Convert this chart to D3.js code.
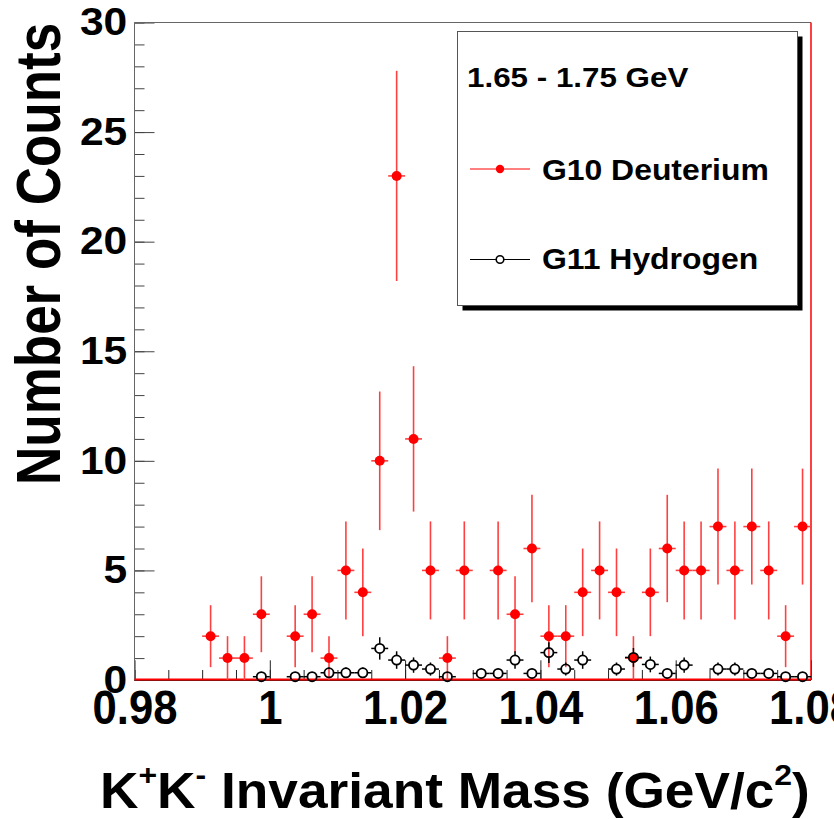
<!DOCTYPE html>
<html><head><meta charset="utf-8">
<script src="https://cdn.jsdelivr.net/npm/d3@7"></script>
<style>
body{margin:0;background:#fff}
svg{display:block}
text{font-family:"Liberation Sans",Arial,Helvetica,sans-serif;font-weight:bold;fill:#000}
</style>
</head><body>
<svg id="chart" width="834" height="819"></svg>
<script>
// ---- data ----
const binWidth = 0.0025;
const deutMass = [0.99125,0.99375,0.99625,0.99875,1.00375,1.00625,1.00875,1.01125,1.01375,1.01625,1.01875,1.02125,1.02375,1.02625,1.02875,1.03375,1.03625,1.03875,1.04125,1.04375,1.04625,1.04875,1.05125,1.05375,1.05625,1.05875,1.06125,1.06375,1.06625,1.06875,1.07125,1.07375,1.07625,1.07875];
const deutCounts = [2,1,1,3,2,3,1,5,4,10,23,11,5,1,5,5,3,6,2,2,4,5,4,1,4,6,5,5,7,5,7,5,2,7];
const hydMass = [0.99875,1.00375,1.00625,1.00875,1.01125,1.01375,1.01625,1.01875,1.02125,1.02375,1.02625,1.03125,1.03375,1.03625,1.03875,1.04125,1.04375,1.04625,1.05125,1.05375,1.05625,1.05875,1.06125,1.06625,1.06875,1.07125,1.07375,1.07625,1.07875];
const hydValues = [0.15,0.15,0.15,0.33,0.33,0.33,1.44,0.91,0.68,0.50,0.15,0.30,0.30,0.91,0.30,1.25,0.50,0.91,0.50,1.03,0.71,0.30,0.68,0.50,0.50,0.30,0.30,0.15,0.15];
const hydErrors = [0.16,0.16,0.16,0.24,0.24,0.24,0.51,0.40,0.35,0.30,0.16,0.23,0.23,0.40,0.23,0.47,0.30,0.40,0.30,0.43,0.36,0.23,0.35,0.30,0.30,0.23,0.23,0.16,0.16];
const xMajorTicks = [0.98,1.00,1.02,1.04,1.06,1.08];
const xTickLabels = ["0.98","1","1.02","1.04","1.06","1.08"];
const yMajorTicks = [0,5,10,15,20,25,30];
const yTickLabels = ["0","5","10","15","20","25","30"];
const legendTitle = "1.65 - 1.75 GeV";
const seriesNames = ["G10 Deuterium","G11 Hydrogen"];
const xTitleParts = [["K",0],["+",1],["K",0],["-",1],[" Invariant Mass (GeV/c",0],["2",1],[")",0]];
const yTitle = "Number of Counts";

// ---- layout ----
const svg = d3.select("#chart");
const X0 = 134.5, X1 = 811, Y0 = 680, Y1 = 22.5;
const x = d3.scaleLinear().domain([0.98,1.08]).range([X0,X1]);
const y = d3.scaleLinear().domain([0,30]).range([Y0,Y1]);
const RED = "#ff0000";

svg.append("rect").attr("width",834).attr("height",819).attr("fill","#fff");

// minor ticks
const xMinor = d3.range(0.98,1.0801,0.005);
svg.append("g").attr("transform",`translate(0,${Y0})`)
  .call(d3.axisBottom(x).tickValues(xMinor).tickSize(-10).tickFormat(""))
  .call(g=>g.select(".domain").remove())
  .call(g=>g.selectAll("line").attr("stroke","#222"));
const yMinor = d3.range(0,30.01,1);
svg.append("g").attr("transform",`translate(${X0},0)`)
  .call(d3.axisLeft(y).tickValues(yMinor).tickSize(-10).tickFormat(""))
  .call(g=>g.select(".domain").remove())
  .call(g=>g.selectAll("line").attr("stroke","#444"));

// major x
svg.append("g").attr("transform",`translate(0,${Y0})`)
  .call(d3.axisBottom(x).tickValues(xMajorTicks).tickSize(-19.7).tickPadding(10)
        .tickFormat((d,i)=>xTickLabels[i]))
  .call(g=>g.select(".domain").remove())
  .call(g=>g.selectAll("line").attr("stroke","#222"))
  .call(g=>g.selectAll("text").attr("font-size",48).attr("fill","#000")
        .attr("transform","scale(0.91,1)")
        .style("font-family",'"Liberation Sans",Arial,sans-serif').style("font-weight","bold"));

// major y
svg.append("g").attr("transform",`translate(${X0},0)`)
  .call(d3.axisLeft(y).tickValues(yMajorTicks).tickSize(-20).tickPadding(6.5)
        .tickFormat((d,i)=>yTickLabels[i]))
  .call(g=>g.select(".domain").remove())
  .call(g=>g.selectAll("line").attr("stroke","#444"))
  .call(g=>g.selectAll("text").attr("font-size",38).attr("fill","#000")
        .attr("transform","scale(1.12,1)")
        .style("font-family",'"Liberation Sans",Arial,sans-serif').style("font-weight","bold"));

// frame lines
svg.append("line").attr("x1",X0).attr("x2",X1).attr("y1",Y1).attr("y2",Y1).attr("stroke","#666").attr("stroke-width",1);
svg.append("line").attr("x1",X0).attr("x2",X0).attr("y1",Y1).attr("y2",Y0).attr("stroke","#666").attr("stroke-width",1);
svg.append("line").attr("x1",X0).attr("x2",X1).attr("y1",Y0+0.5).attr("y2",Y0+0.5).attr("stroke","#222").attr("stroke-width",1);
// red histogram outline
svg.append("line").attr("x1",X0).attr("x2",X1).attr("y1",Y0-0.5).attr("y2",Y0-0.5).attr("stroke",RED).attr("stroke-width",2);
svg.append("line").attr("x1",X1).attr("x2",X1).attr("y1",Y1).attr("y2",Y0).attr("stroke",RED).attr("stroke-width",1.5);

// deuterium points
const deut = deutMass.map((m,i)=>({m, c:deutCounts[i], e:Math.sqrt(deutCounts[i])}));
const gD = svg.append("g");
gD.selectAll("line.v").data(deut).join("line")
  .attr("x1",d=>x(d.m)).attr("x2",d=>x(d.m))
  .attr("y1",d=>y(Math.max(0,d.c-d.e))).attr("y2",d=>y(d.c+d.e))
  .attr("stroke","#ff4040").attr("stroke-width",1.6);
gD.selectAll("line.h").data(deut).join("line")
  .attr("x1",d=>x(d.m-binWidth/2)).attr("x2",d=>x(d.m+binWidth/2))
  .attr("y1",d=>y(d.c)).attr("y2",d=>y(d.c))
  .attr("stroke","#ff4040").attr("stroke-width",1.6);
gD.selectAll("circle").data(deut).join("circle")
  .attr("cx",d=>x(d.m)).attr("cy",d=>y(d.c)).attr("r",5).attr("fill",RED);

// hydrogen points
const R = 4.6;
const hyd = hydMass.map((m,i)=>({m, v:hydValues[i], e:hydErrors[i]}));
const gH = svg.append("g").attr("stroke","#000").attr("stroke-width",1.5);
hyd.forEach(d=>{
  const cx = x(d.m), cy = y(d.v);
  const top = y(d.v+d.e), bot = y(Math.max(0,d.v-d.e));
  if (cy - top > R) gH.append("line").attr("x1",cx).attr("x2",cx).attr("y1",top).attr("y2",cy-R);
  if (bot - cy > R) gH.append("line").attr("x1",cx).attr("x2",cx).attr("y1",cy+R).attr("y2",bot);
  gH.append("line").attr("x1",x(d.m-binWidth/2)).attr("x2",cx-R).attr("y1",cy).attr("y2",cy);
  gH.append("line").attr("x1",cx+R).attr("x2",x(d.m+binWidth/2)).attr("y1",cy).attr("y2",cy);
});
gH.selectAll("circle").data(hyd).join("circle")
  .attr("cx",d=>x(d.m)).attr("cy",d=>y(d.v)).attr("r",R).attr("fill","none").attr("stroke-width",1.8);

// legend
const L = {x:457.5, y:31.5, w:340, h:274};
svg.append("rect").attr("x",L.x+5).attr("y",L.y+5).attr("width",L.w).attr("height",L.h).attr("fill","#000");
svg.append("rect").attr("x",L.x).attr("y",L.y).attr("width",L.w).attr("height",L.h).attr("fill","#fff").attr("stroke","#555").attr("stroke-width",1);
svg.append("text").attr("transform","translate(467,87) scale(1.12,1)").attr("font-size",28).text(legendTitle);
// entry 1
svg.append("line").attr("x1",470).attr("x2",530).attr("y1",169).attr("y2",169).attr("stroke",RED).attr("stroke-width",1);
svg.append("circle").attr("cx",500).attr("cy",169).attr("r",4.2).attr("fill",RED);
svg.append("text").attr("transform","translate(542,179.5) scale(1.1,1)").attr("font-size",29).text(seriesNames[0]);
// entry 2
svg.append("line").attr("x1",470).attr("x2",530).attr("y1",259.5).attr("y2",259.5).attr("stroke","#000").attr("stroke-width",1);
svg.append("circle").attr("cx",500).attr("cy",259.5).attr("r",3.8).attr("fill","#fff").attr("stroke","#000").attr("stroke-width",1.6);
svg.append("text").attr("transform","translate(542,269) scale(1.1,1)").attr("font-size",29).text(seriesNames[1]);

// axis titles
const xt = svg.append("text").attr("transform","translate(100,808) scale(1.065,1)").attr("font-size",50);
let prevSup = 0;
xTitleParts.forEach(([t,sup])=>{
  const ts = xt.append("tspan").text(t);
  if (sup && !prevSup) ts.attr("dy",-23).attr("font-size",30);
  else if (!sup && prevSup) ts.attr("dy",23).attr("font-size",50);
  else if (sup) ts.attr("font-size",30);
  prevSup = sup;
});
svg.append("text").attr("transform","translate(59.5,485) rotate(-90) scale(1,1.2)").attr("font-size",53).text(yTitle);
</script>
</body></html>
